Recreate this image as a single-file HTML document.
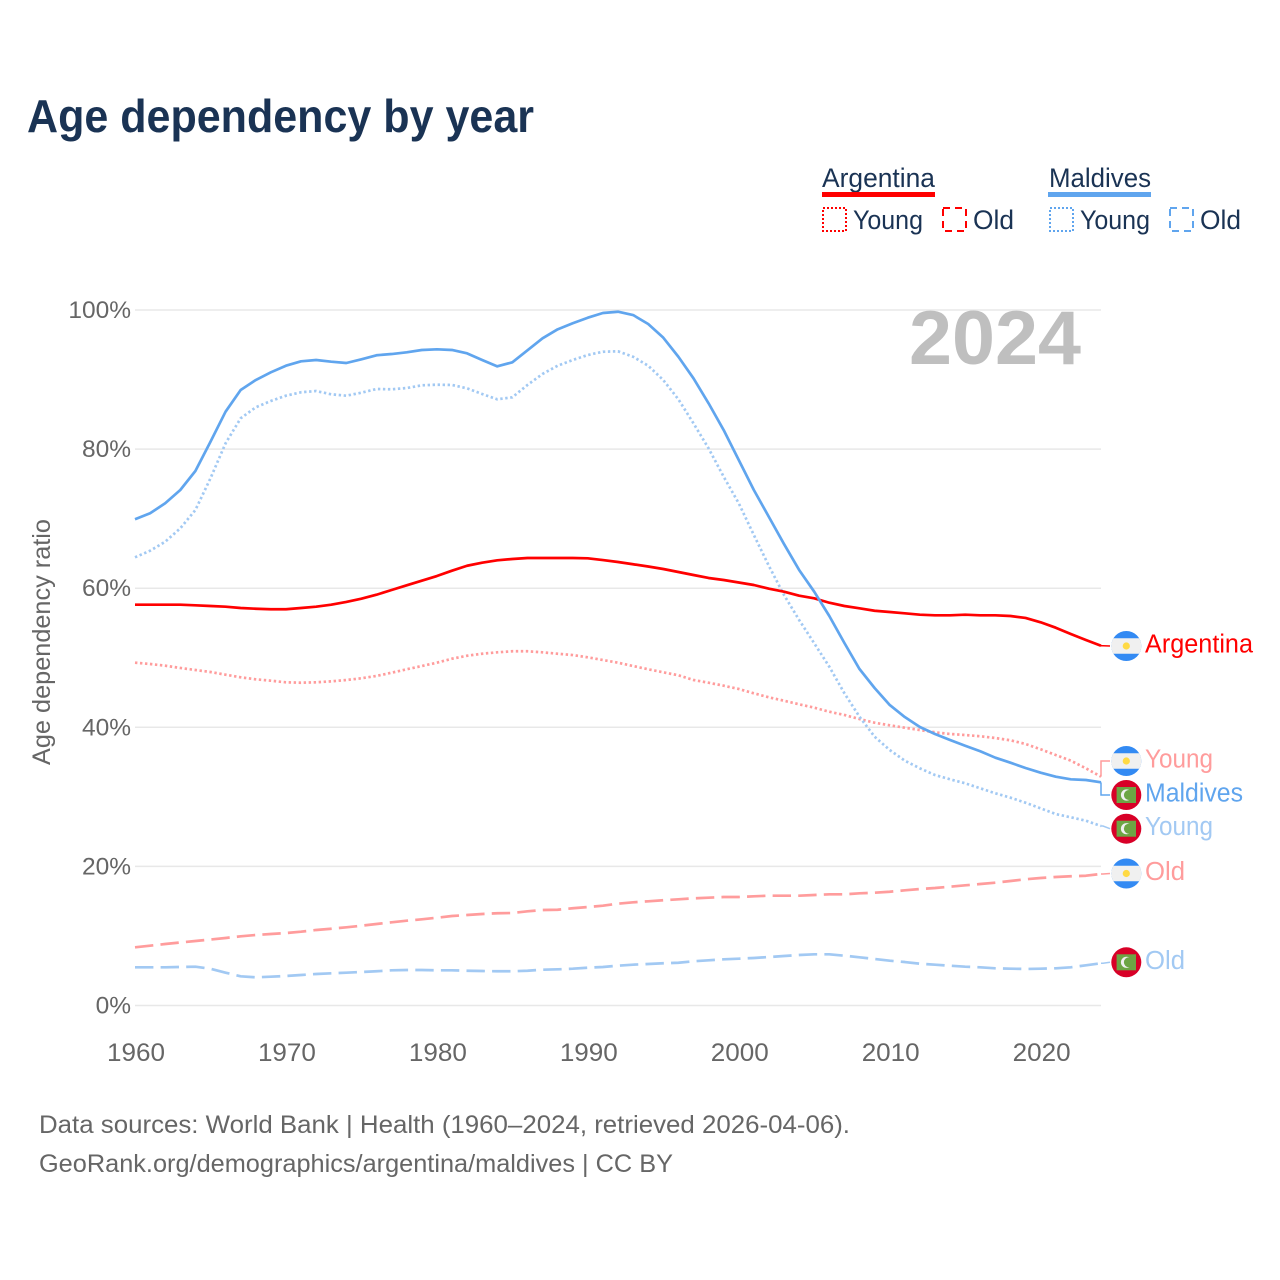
<!DOCTYPE html>
<html lang="en">
<head>
<meta charset="utf-8">
<title>Age dependency by year</title>
<style>
html,body{margin:0;padding:0;background:#fff;width:1280px;height:1280px;overflow:hidden}
svg{display:block}
text{font-family:"Liberation Sans",sans-serif}
</style>
</head>
<body>
<svg id="chart" xmlns="http://www.w3.org/2000/svg" width="1280" height="1280" viewBox="0 0 1280 1280">
  <rect x="0" y="0" width="1280" height="1280" fill="#ffffff"/>
  <text x="27" y="132" font-size="46" font-weight="700" fill="#1a3354" textLength="507" lengthAdjust="spacingAndGlyphs">Age dependency by year</text>

  <g>
    <text x="822" y="187" font-size="27" fill="#1a3354" textLength="113" lengthAdjust="spacingAndGlyphs">Argentina</text>
    <rect x="822" y="192" width="113" height="5" fill="#ff0000"/>
    <rect x="823" y="208" width="23" height="23" fill="none" stroke="#ff0000" stroke-width="2" stroke-dasharray="2 2"/>
    <text x="853" y="229" font-size="27" fill="#1a3354" textLength="70" lengthAdjust="spacingAndGlyphs">Young</text>
    <rect x="943" y="208" width="23" height="23" fill="none" stroke="#ff0000" stroke-width="2" stroke-dasharray="7 5"/>
    <text x="973" y="229" font-size="27" fill="#1a3354" textLength="41" lengthAdjust="spacingAndGlyphs">Old</text>

    <text x="1049" y="187" font-size="27" fill="#1a3354" textLength="102" lengthAdjust="spacingAndGlyphs">Maldives</text>
    <rect x="1048" y="192" width="103" height="5" fill="#60a5ee"/>
    <rect x="1050" y="208" width="23" height="23" fill="none" stroke="#60a5ee" stroke-width="2" stroke-dasharray="2 2"/>
    <text x="1080" y="229" font-size="27" fill="#1a3354" textLength="70" lengthAdjust="spacingAndGlyphs">Young</text>
    <rect x="1170" y="208" width="23" height="23" fill="none" stroke="#60a5ee" stroke-width="2" stroke-dasharray="7 5"/>
    <text x="1200" y="229" font-size="27" fill="#1a3354" textLength="41" lengthAdjust="spacingAndGlyphs">Old</text>
  </g>

  <text transform="translate(50,642) rotate(-90)" text-anchor="middle" font-size="25" fill="#666666" textLength="246" lengthAdjust="spacingAndGlyphs">Age dependency ratio</text>
  <g id="grid"></g>
  <g id="xaxis"></g>
  <text x="909" y="364" font-size="76" font-weight="700" fill="#bfbfbf" textLength="172" lengthAdjust="spacingAndGlyphs">2024</text>
  <g id="series"></g>
  <g id="ends"></g>

  <text x="39" y="1133" font-size="25" fill="#666666" textLength="811" lengthAdjust="spacingAndGlyphs">Data sources: World Bank | Health (1960–2024, retrieved 2026-04-06).</text>
  <text x="39" y="1172" font-size="25" fill="#666666" textLength="634" lengthAdjust="spacingAndGlyphs">GeoRank.org/demographics/argentina/maldives | CC BY</text>
</svg>
<script>
const startYear = 1960;
const endYear = 2024;
const yTicks = [0, 20, 40, 60, 80, 100];
const xTicks = [1960, 1970, 1980, 1990, 2000, 2010, 2020];

const argentinaTotal = [
57.63,57.63,57.63,57.63,57.54,57.44,57.34,57.15,57.05,56.97,
56.97,57.15,57.34,57.63,58.02,58.49,59.06,59.74,60.42,61.08,
61.75,62.52,63.23,63.67,64.01,64.20,64.34,64.34,64.34,64.34,
64.30,64.05,63.77,63.44,63.12,62.76,62.33,61.90,61.47,61.18,
60.82,60.46,59.93,59.50,58.92,58.55,57.91,57.44,57.11,56.76,
56.58,56.39,56.19,56.10,56.10,56.19,56.10,56.10,56.00,55.72,
55.10,54.32,53.41,52.55,51.73];
const argentinaYoung = [
49.29,49.10,48.86,48.53,48.24,47.95,47.56,47.19,46.90,46.70,
46.47,46.41,46.47,46.61,46.80,47.05,47.38,47.85,48.34,48.81,
49.29,49.86,50.29,50.58,50.78,50.93,50.93,50.78,50.58,50.39,
50.06,49.68,49.29,48.81,48.34,47.91,47.48,46.80,46.41,45.98,
45.51,44.89,44.31,43.82,43.31,42.82,42.24,41.77,41.19,40.66,
40.29,39.94,39.61,39.28,39.04,38.89,38.71,38.46,38.13,37.60,
36.84,36.02,35.20,34.10,32.90];
const argentinaOld = [
8.37,8.60,8.84,9.06,9.27,9.49,9.71,9.95,10.14,10.28,
10.42,10.61,10.86,11.04,11.24,11.47,11.72,11.96,12.19,12.39,
12.62,12.87,13.01,13.16,13.26,13.30,13.54,13.73,13.77,13.98,
14.16,14.35,14.64,14.84,14.98,15.13,15.27,15.41,15.50,15.60,
15.60,15.70,15.79,15.79,15.79,15.89,15.99,15.99,16.13,16.22,
16.36,16.56,16.75,16.89,17.08,17.28,17.47,17.66,17.90,18.15,
18.33,18.48,18.58,18.66,18.91];
const maldivesTotal = [
69.91,70.77,72.21,74.12,76.85,81.06,85.38,88.50,89.93,91.04,
91.99,92.62,92.81,92.57,92.38,92.91,93.49,93.67,93.92,94.25,
94.35,94.25,93.77,92.81,91.90,92.48,94.20,95.93,97.22,98.09,
98.89,99.57,99.75,99.28,97.99,96.02,93.28,90.18,86.59,82.74,
78.43,74.12,70.24,66.35,62.62,59.50,56.00,52.12,48.38,45.65,
43.21,41.48,40.04,39.04,38.17,37.35,36.55,35.63,34.91,34.15,
33.47,32.90,32.52,32.42,32.09];
const maldivesYoung = [
64.44,65.39,66.68,68.61,71.24,75.80,80.83,84.43,86.01,86.92,
87.68,88.17,88.35,87.88,87.68,88.11,88.64,88.60,88.78,89.17,
89.26,89.22,88.74,87.92,87.16,87.45,89.22,90.80,91.99,92.81,
93.53,94.00,94.06,93.28,91.99,89.93,87.16,83.71,80.11,76.03,
72.21,67.65,63.19,59.02,55.43,52.08,48.71,44.89,41.52,38.65,
36.74,35.20,34.10,33.14,32.52,31.95,31.23,30.51,29.88,29.16,
28.35,27.53,27.06,26.57,25.81];
const maldivesOld = [
5.49,5.49,5.49,5.54,5.58,5.29,4.72,4.20,4.05,4.14,
4.24,4.39,4.53,4.63,4.72,4.82,4.92,5.06,5.10,5.10,
5.06,5.06,5.00,4.96,4.92,4.92,5.00,5.15,5.20,5.29,
5.43,5.54,5.72,5.87,5.97,6.07,6.15,6.36,6.50,6.64,
6.73,6.83,6.97,7.12,7.26,7.36,7.36,7.16,6.93,6.69,
6.44,6.25,6.01,5.87,5.72,5.58,5.49,5.35,5.29,5.25,
5.29,5.35,5.49,5.78,6.07];

const NS = 'http://www.w3.org/2000/svg';
const plotLeft = 135, plotRight = 1101, plotTop = 310, plotBottom = 1005.5;
const RED = '#ff0000', BLUE = '#60a5ee', PALE_RED = '#ff9c9c', PALE_BLUE = '#a2c9f3';
function xScale(year) { return plotLeft + (year - startYear) / (endYear - startYear) * (plotRight - plotLeft); }
function yScale(v) { return plotBottom - v / 100 * (plotBottom - plotTop); }
function make(tag, parent, attrs) {
  const el = document.createElementNS(NS, tag);
  for (const k in attrs) el.setAttribute(k, attrs[k]);
  parent.appendChild(el);
  return el;
}

const grid = document.getElementById('grid');
yTicks.forEach(function (t) {
  const line = make('line', grid, { x1: plotLeft, x2: plotRight, y1: yScale(t), y2: yScale(t), stroke: '#e8e8e8', 'stroke-width': 1.5 });
  
  
  const label = make('text', grid, { x: 131, y: yScale(t) + 8, 'text-anchor': 'end', 'font-size': 24.5, fill: '#666666' });
  
  
  label.textContent = t + '%';
});

const xaxis = document.getElementById('xaxis');
xTicks.forEach(function (t) {
  const label = make('text', xaxis, { x: xScale(t) + 1, y: 1061, 'text-anchor': 'middle', 'font-size': 25, fill: '#666666', textLength: 58, lengthAdjust: 'spacingAndGlyphs' });
  
  
  label.textContent = String(t);
});

const DOT = '2.4 2.6', DASH = '18.4 7.2';
const seriesList = [
  { key: 'argentina-old', values: argentinaOld, color: PALE_RED, dash: DASH, width: 2.7, labelY: 873.5, flag: 'ar', text: 'Old', tl: 40 },
  { key: 'maldives-old', values: maldivesOld, color: PALE_BLUE, dash: DASH, width: 2.7, labelY: 962.3, flag: 'mv', text: 'Old', tl: 40 },
  { key: 'argentina-young', values: argentinaYoung, color: PALE_RED, dash: DOT, width: 2.7, labelY: 761, flag: 'ar', text: 'Young', tl: 68 },
  { key: 'maldives-young', values: maldivesYoung, color: PALE_BLUE, dash: DOT, width: 2.7, labelY: 828.7, flag: 'mv', text: 'Young', tl: 68 },
  { key: 'argentina-total', values: argentinaTotal, color: RED, dash: null, width: 2.7, labelY: 646, flag: 'ar', text: 'Argentina', tl: 108 },
  { key: 'maldives-total', values: maldivesTotal, color: BLUE, dash: null, width: 2.7, labelY: 795, flag: 'mv', text: 'Maldives', tl: 98 }
];

const seriesGroup = document.getElementById('series');
const ends = document.getElementById('ends');

function drawFlag(kind, cx, cy, owner) {
  const g = make('g', ends, {});
  
  
  const r = 15;
  if (kind === 'ar') {
    const band = 7.8;
    make('circle', g, { cx: cx, cy: cy, r: r, fill: '#338af3' });
    const h = Math.sqrt(r * r - band * band);
    make('path', g, { d: 'M' + (cx - h) + ' ' + (cy - band) + 'L' + (cx + h) + ' ' + (cy - band) + 'A15 15 0 0 1 ' + (cx + h) + ' ' + (cy + band) + 'L' + (cx - h) + ' ' + (cy + band) + 'A15 15 0 0 1 ' + (cx - h) + ' ' + (cy - band) + 'Z', fill: '#f0f0f0' });
    make('circle', g, { cx: cx, cy: cy, r: 3.6, fill: '#ffda44' });
  } else {
    make('circle', g, { cx: cx, cy: cy, r: r, fill: '#d80027' });
    make('rect', g, { x: cx - 9.7, y: cy - 8, width: 19.4, height: 16, fill: '#6da544' });
    make('circle', g, { cx: cx + 0.2, cy: cy, r: 5.6, fill: '#f0f0f0' });
    make('circle', g, { cx: cx + 2.6, cy: cy, r: 5, fill: '#6da544' });
  }
}

seriesList.forEach(function (s) {
  let d = '';
  s.values.forEach(function (v, i) {
    d += (i ? 'L' : 'M') + xScale(startYear + i).toFixed(2) + ' ' + yScale(v).toFixed(2);
  });
  const path = make('path', seriesGroup, { d: d, fill: 'none', stroke: s.color, 'stroke-width': s.width, 'stroke-linejoin': 'round' });
  if (s.dash) path.setAttribute('stroke-dasharray', s.dash);
  
  

  const lastY = yScale(s.values[s.values.length - 1]);
  const gap = Math.abs(lastY - s.labelY);
  const connD = gap > 8
    ? 'M' + plotRight + ' ' + lastY + 'V' + s.labelY + 'H1110'
    : 'M' + plotRight + ' ' + lastY + 'L1103 ' + lastY + 'L1110 ' + s.labelY;
  const conn = make('path', ends, { d: connD, fill: 'none', stroke: s.color, 'stroke-width': 1.5 });
  
  

  drawFlag(s.flag, 1126.3, s.labelY, s.key);

  const label = make('text', ends, { x: 1145, y: s.labelY + 6.5, 'font-size': 25.5, fill: s.color, textLength: s.tl, lengthAdjust: 'spacingAndGlyphs' });
  
  
  label.textContent = s.text;
});
</script>
</body>
</html>
